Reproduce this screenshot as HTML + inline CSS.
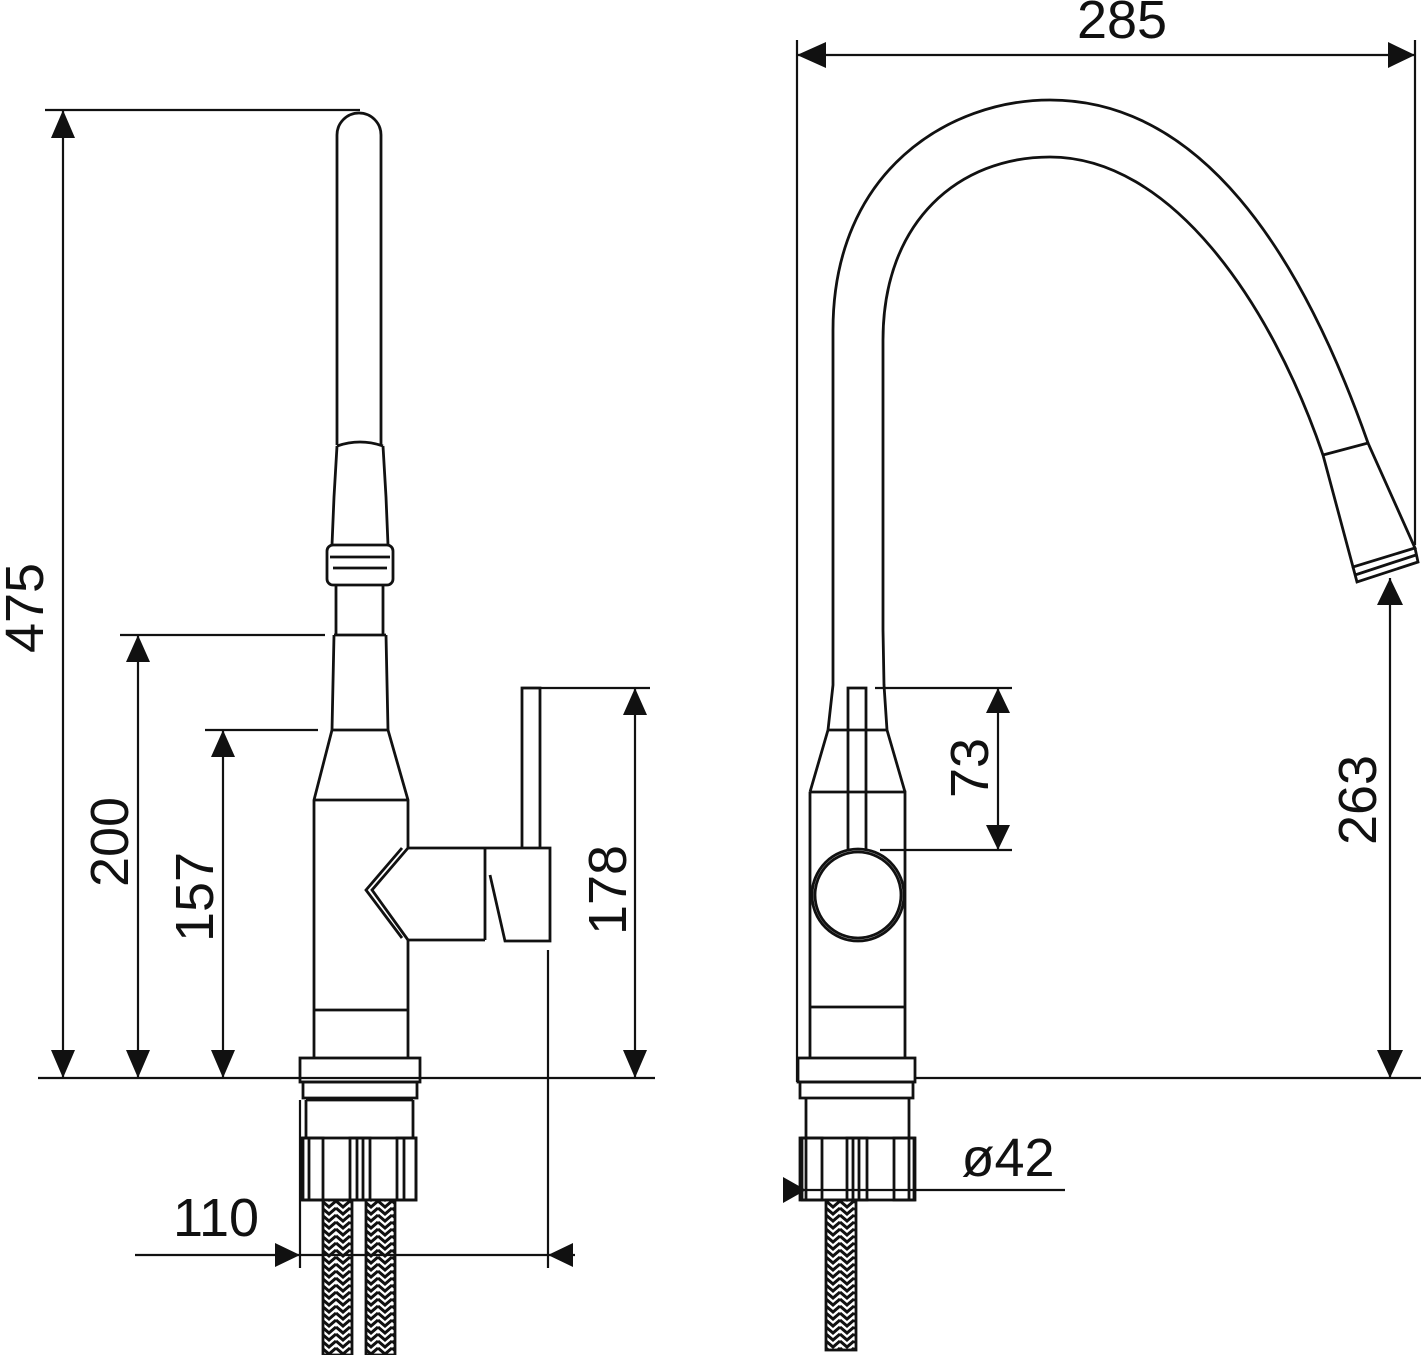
<!DOCTYPE html>
<html><head><meta charset="utf-8"><style>html,body{margin:0;padding:0;background:#fff}svg{display:block}</style></head><body>
<svg width="1421" height="1355" viewBox="0 0 1421 1355" xmlns="http://www.w3.org/2000/svg" font-family="Liberation Sans, sans-serif">
<defs>
<pattern id="h" width="14" height="14" patternUnits="userSpaceOnUse">
<rect width="14" height="14" fill="#fff"/>
<path d="M0,4 L7,10 L14,4 M0,11 L7,17 L14,11 M0,-3 L7,3 L14,-3" stroke="#111" stroke-width="3" fill="none"/>
</pattern>
</defs>
<g stroke="#111" stroke-width="2.8" fill="none">
<path d="M337,445 L337,135 A22,22 0 0 1 381,135 L381,445"/>
<path d="M337,446 Q360,438 383,446"/>
<path d="M337,446 L334,497 L332,545 M383,446 L386,497 L388,545"/>
<rect x="327" y="545" width="66" height="40" rx="6"/>
<path d="M330,557 H390 M333,568 H387"/>
<path d="M336,585 V635 M383,585 V635 M334,635 H386"/>
<path d="M334,635 L332,730 M386,635 L388,730 M332,730 H388"/>
<path d="M332,730 L314,800 V1058 M388,730 L408,800 V848 M408,940 V1058"/>
<path d="M314,800 H408 M314,1010 H408"/>
<path d="M408,848 L372,890 L408,940"/>
<path d="M402,848 L366,890 L402,938"/>
<path d="M408,848 H490 M408,940 H485 M485,848 V940"/>
<path d="M490,848 H550 V941 H505 L490,875"/>
<path d="M522,848 V688 H540 V848"/>
<rect x="300" y="1058" width="120" height="24"/>
<path d="M303,1082 H417 V1098 H303 Z"/>
<path d="M306,1100 V1138 M413,1100 V1138 M306,1100 H413"/>
<rect x="302" y="1138" width="114" height="62"/>
<rect x="303" y="1138" width="20" height="62"/>
<rect x="350" y="1138" width="20" height="62"/>
<rect x="397" y="1138" width="19" height="62"/>
<path d="M309,1138 V1200 M357,1138 V1200 M363,1138 V1200 M404,1138 V1200"/>
</g>
<rect x="323" y="1200" width="29" height="155" fill="url(#h)" stroke="#111" stroke-width="2.8"/>
<rect x="366" y="1200" width="29" height="155" fill="url(#h)" stroke="#111" stroke-width="2.8"/>
<rect x="826" y="1200" width="30" height="150" fill="url(#h)" stroke="#111" stroke-width="2.8"/>
<g stroke="#111" stroke-width="2.8" fill="none">
<path d="M833,630 L833,330 C833,170 950,100 1050,100 C1200,100 1300,250 1368,443"/>
<path d="M883,630 L883,340 C883,220 960,157 1050,157 C1170,157 1270,300 1323,455"/>
<path d="M1323,455 L1368,443 L1415,548 L1353,567 Z"/>
<path d="M1353,567 L1357,582 L1418,562 L1415,548 M1355,575 L1416,555"/>
<path d="M833,630 L833,685 L828,730 M883,630 L884,685 L887,730 M828,730 H887"/>
<path d="M828,730 L810,792 M887,730 L905,792 M810,792 H905 V1058 M810,792 V1058 M810,1007 H905"/>
<path d="M848,850 V688 H866 V850"/>
<circle cx="858" cy="895" r="46" fill="#fff"/>
<circle cx="858" cy="895" r="43"/>
<rect x="798" y="1058" width="117" height="24"/>
<path d="M800,1082 H913 V1098 H800 Z M806,1098 V1200 M909,1098 V1200"/>
<rect x="800" y="1138" width="115" height="62"/>
<rect x="802" y="1138" width="20" height="62"/>
<rect x="847" y="1138" width="20" height="62"/>
<rect x="894" y="1138" width="20" height="62"/>
<path d="M853,1138 V1200 M859,1138 V1200"/>
</g>
<g stroke="#111" stroke-width="2.2" fill="none">
<path d="M45,110 H360 M63,110 V1078"/>
<path d="M120,635 H325 M138,635 V1078"/>
<path d="M205,730 H318 M223,730 V1078"/>
<path d="M522,688 H650 M635,688 V1078"/>
<path d="M38,1078 H655"/>
<path d="M300,1100 V1268 M548,950 V1268 M135,1255 H575"/>
<path d="M797,40 V1082 M1415,40 V545 M797,55 H1415"/>
<path d="M875,688 H1012 M880,850 H1012 M998,688 V850"/>
<path d="M915,1078 H1421 M1390,578 V1078"/>
<path d="M790,1190 H1065"/>
</g>
<g fill="#111">
<path d="M63,110 L51,138 H75 Z M63,1078 L51,1050 H75 Z"/>
<path d="M138,635 L126,662 H150 Z M138,1078 L126,1050 H150 Z"/>
<path d="M223,730 L211,757 H235 Z M223,1078 L211,1050 H235 Z"/>
<path d="M635,688 L623,715 H647 Z M635,1078 L623,1050 H647 Z"/>
<path d="M300,1255 L275,1243 V1267 Z M548,1255 L573,1243 V1267 Z"/>
<path d="M797,55 L826,42 V68 Z M1415,55 L1388,42 V68 Z"/>
<path d="M998,688 L986,713 H1010 Z M998,850 L986,825 H1010 Z"/>
<path d="M1390,578 L1377,605 H1403 Z M1390,1078 L1377,1050 H1403 Z"/>
<path d="M806,1190 L783,1177 V1203 Z"/>
</g>
<g fill="#111" font-size="54">
<text x="1122" y="38" text-anchor="middle">285</text>
<text transform="translate(43,608) rotate(-90)" text-anchor="middle">475</text>
<text transform="translate(128,842) rotate(-90)" text-anchor="middle">200</text>
<text transform="translate(213,897) rotate(-90)" text-anchor="middle">157</text>
<text transform="translate(626,890) rotate(-90)" text-anchor="middle">178</text>
<text transform="translate(988,768) rotate(-90)" text-anchor="middle">73</text>
<text transform="translate(1376,800) rotate(-90)" text-anchor="middle">263</text>
<text x="216" y="1236" text-anchor="middle">110</text>
<text x="1008" y="1176" text-anchor="middle">ø42</text>
</g>
</svg>
</body></html>
